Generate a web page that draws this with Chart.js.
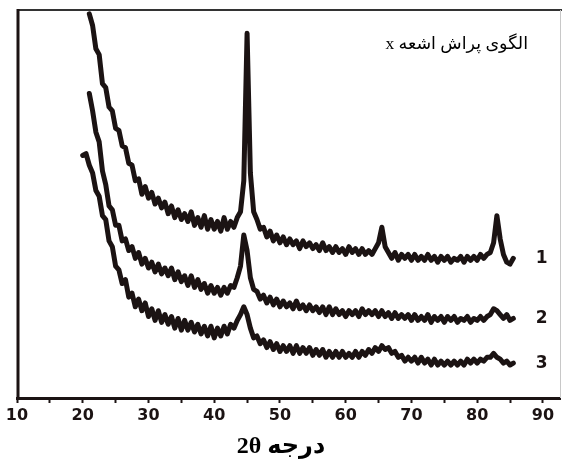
<!DOCTYPE html>
<html>
<head>
<meta charset="utf-8">
<script src="https://cdn.jsdelivr.net/npm/chart.js@4.4.0/dist/chart.umd.min.js"></script>
<style>
  html, body { margin: 0; padding: 0; background: #fff; }
  #wrap { width: 562px; height: 472px; }
</style>
</head>
<body>
<div id="wrap"><canvas id="xrd" width="562" height="472"></canvas></div>
<script>
// 2θ grid (degrees), 0.5° step
const TWO_THETA = [
    20.0, 20.5, 21.0, 21.5, 22.0, 22.5, 23.0, 23.5, 24.0, 24.5,
    25.0, 25.5, 26.0, 26.5, 27.0, 27.5, 28.0, 28.5, 29.0, 29.5,
    30.0, 30.5, 31.0, 31.5, 32.0, 32.5, 33.0, 33.5, 34.0, 34.5,
    35.0, 35.5, 36.0, 36.5, 37.0, 37.5, 38.0, 38.5, 39.0, 39.5,
    40.0, 40.5, 41.0, 41.5, 42.0, 42.5, 43.0, 43.5, 44.0, 44.5,
    45.0, 45.5, 46.0, 46.5, 47.0, 47.5, 48.0, 48.5, 49.0, 49.5,
    50.0, 50.5, 51.0, 51.5, 52.0, 52.5, 53.0, 53.5, 54.0, 54.5,
    55.0, 55.5, 56.0, 56.5, 57.0, 57.5, 58.0, 58.5, 59.0, 59.5,
    60.0, 60.5, 61.0, 61.5, 62.0, 62.5, 63.0, 63.5, 64.0, 64.5,
    65.0, 65.5, 66.0, 66.5, 67.0, 67.5, 68.0, 68.5, 69.0, 69.5,
    70.0, 70.5, 71.0, 71.5, 72.0, 72.5, 73.0, 73.5, 74.0, 74.5,
    75.0, 75.5, 76.0, 76.5, 77.0, 77.5, 78.0, 78.5, 79.0, 79.5,
    80.0, 80.5, 81.0, 81.5, 82.0, 82.5, 83.0, 83.5, 84.0, 84.5,
    85.0, 85.5,
];

// intensity, arbitrary units (0 = axis, 100 = top of frame)
const SAMPLE_1 = [
    null, null, 99, 96, 90, 88.5, 81, 80, 75, 74,
    69.5, 69, 65, 64.5, 60.5, 60, 56, 56.5, 52.5, 54.5,
    51.5, 53, 50, 51.5, 49, 50.5, 47.5, 49.5, 46.5, 48.5,
    46, 47.5, 45.5, 48, 44.5, 46.5, 44, 47, 43.5, 46,
    43.5, 45.5, 43, 46.5, 43.5, 45.5, 44, 46.5, 48, 56,
    94, 58, 48, 46, 43.5, 44, 41.5, 43, 40.5, 42,
    40, 41.5, 39.5, 41, 39.5, 40.5, 38.5, 40.5, 39, 40,
    38.5, 39.5, 38, 40, 38, 39, 37.5, 39, 37.5, 38.5,
    37, 39, 37.5, 38.5, 37, 38.5, 37, 38, 37, 38.5,
    40, 44, 39, 37.5, 36, 37.5, 35.5, 37, 36, 37,
    35.5, 37, 35.5, 36.5, 35.5, 37, 35.5, 36.5, 35, 36.5,
    35.5, 36.5, 35, 36, 35.5, 36.5, 35, 36.5, 35.5, 36.5,
    35.5, 37, 36, 37, 37.5, 40, 47, 41, 37, 35,
    34.5, 36,
];

const SAMPLE_2 = [
    null, null, 78.5, 74, 68.5, 66, 58.5, 55, 49.5, 48.5,
    44.5, 44.5, 40.5, 41, 38, 39, 36, 37.5, 34.5, 36,
    33.5, 35, 32.5, 34.5, 32, 33.5, 31.5, 33.5, 30.5, 32.5,
    30, 31.5, 29, 31.5, 28.5, 30.5, 28, 29.5, 27, 29,
    27, 28.5, 26.5, 28.5, 27, 29, 28.5, 31, 34, 42,
    38, 31, 28, 27.5, 25.5, 26.5, 24.5, 26, 24, 25.5,
    23.5, 25, 23.5, 24.5, 23, 25, 23, 24, 22.5, 24,
    22.5, 23.5, 22, 23.5, 21.5, 23.5, 21.5, 23, 21.5, 22.5,
    21, 22.5, 21.5, 22.5, 21, 23, 21.5, 22.5, 21.5, 22.5,
    21, 22.5, 21, 22, 20.5, 22, 20.5, 21.5, 20.5, 21.5,
    20, 21.5, 20, 21, 20, 21.5, 19.5, 21, 20, 21,
    19.5, 21, 20, 21, 19.5, 20.5, 20, 21, 19.5, 20.5,
    20, 21, 20, 21, 21.5, 23, 22.5, 21.5, 20.5, 21.5,
    20, 20.5,
];

const SAMPLE_3 = [
    62.5, 63, 60, 58, 53.5, 52, 47, 46, 40.5, 39,
    34, 33, 29.5, 30.5, 26, 27, 23.5, 25.5, 22.5, 24.5,
    21, 23, 20, 22.5, 19.5, 21.5, 19, 21, 18, 20.5,
    17.5, 20, 17.5, 19.5, 17, 19, 16.5, 18.5, 16, 18.5,
    15.5, 18, 16, 18.5, 16.5, 19, 18, 20, 21.5, 23.5,
    21.5, 18, 15.5, 16, 14, 15, 13, 14.5, 12.5, 14,
    12, 13.5, 12, 13.5, 11.5, 13.5, 11.5, 13, 11.5, 13,
    11, 12.5, 11, 12.5, 10.5, 12, 10.5, 12, 10.5, 12,
    10.5, 11.5, 10.5, 12, 10.5, 12, 11, 12.5, 11.5, 13,
    12, 13.5, 12.5, 13, 11.5, 12, 10.5, 11, 9.5, 10.5,
    9.5, 10.5, 9, 10.5, 9, 10, 8.5, 10, 8.5, 9.5,
    8.5, 9.5, 8.5, 9.5, 8.5, 9.5, 8.5, 10, 9, 10,
    9, 10, 9.5, 10.5, 10.5, 11.5, 10.5, 10, 9, 9.5,
    8.5, 9,
];

const SERIES = [SAMPLE_1, SAMPLE_2, SAMPLE_3];
const SERIES_NAMES = ["1", "2", "3"];
const X_TICKS = [10, 15, 20, 25, 30, 35, 40, 45, 50, 55, 60, 65, 70, 75, 80, 85, 90];
const X_LABEL_STEP = 10;
const NAME_AT = 89.8;          // 2θ where the sample numbers sit
const X_MIN = 10, X_MAX = 92.6;
const Y_MIN = 0, Y_MAX = 100;

const TITLE_TEXT = "الگوی پراش اشعه x";
const AXIS_TITLE = "درجه 2θ";

const INK = "#1b1313";

function toPoints(values) {
    return TWO_THETA.map((t, i) => ({ x: t, y: values[i] }));
}

const decor = {
    id: "decor",
    afterDatasetsDraw(chart) {
        const { ctx, chartArea: a, scales: { x, y } } = chart;
        ctx.save();

        // frame: thin top, faint right, heavy left
        ctx.strokeStyle = "#333";
        ctx.lineWidth = 2;
        ctx.beginPath();
        ctx.moveTo(a.left, a.top);
        ctx.lineTo(chart.width, a.top);
        ctx.stroke();

        ctx.strokeStyle = "#c8c8c8";
        ctx.lineWidth = 1;
        ctx.beginPath();
        ctx.moveTo(a.right + 0.5, a.top);
        ctx.lineTo(a.right + 0.5, a.bottom);
        ctx.stroke();

        ctx.strokeStyle = INK;
        ctx.lineWidth = 3;
        ctx.beginPath();
        ctx.moveTo(a.left + 1, a.top - 1);
        ctx.lineTo(a.left + 1, a.bottom + 1);
        ctx.stroke();

        // sample numbers at the end of each trace
        ctx.fillStyle = INK;
        ctx.font = "bold 17px 'DejaVu Sans'";
        ctx.textAlign = "center";
        ctx.textBaseline = "middle";
        SERIES.forEach((vals, i) => {
            const last = vals[vals.length - 1];
            ctx.fillText(SERIES_NAMES[i], x.getPixelForValue(NAME_AT), y.getPixelForValue(last));
        });

        // annotation, top right
        ctx.direction = "rtl";
        ctx.font = "17.5px 'Liberation Serif', 'DejaVu Sans'";
        ctx.textAlign = "right";
        ctx.fillStyle = "#000";
        ctx.fillText(TITLE_TEXT, 528, 44);

        // x axis title
        ctx.font = "bold 24px 'Liberation Serif', 'DejaVu Sans'";
        ctx.textAlign = "center";
        ctx.fillText(AXIS_TITLE, chart.width / 2, 447);

        ctx.restore();
    },
};

new Chart(document.getElementById("xrd"), {
    type: "line",
    data: {
        datasets: SERIES.map((vals, i) => ({
            label: SERIES_NAMES[i],
            data: toPoints(vals),
            borderColor: INK,
            borderWidth: 5,
            borderJoinStyle: "round",
            borderCapStyle: "round",
            pointRadius: 0,
            tension: 0,
            fill: false,
        })),
    },
    options: {
        responsive: false,
        animation: false,
        layout: { padding: { left: 17, top: 10, right: 2, bottom: 0 } },
        plugins: {
            legend: { display: false },
            tooltip: { enabled: false },
        },
        scales: {
            x: {
                type: "linear",
                min: X_MIN,
                max: X_MAX,
                afterBuildTicks: (scale) => {
                    scale.ticks = X_TICKS.map((v) => ({ value: v }));
                },
                afterFit: (scale) => { scale.height = 74; },
                ticks: {
                    autoSkip: false,
                    maxRotation: 0,
                    padding: 3,
                    color: INK,
                    font: { family: "'DejaVu Sans'", size: 16, weight: "bold" },
                    callback: (v) => (v % X_LABEL_STEP === 0 ? String(v) : ""),
                },
                grid: {
                    drawOnChartArea: false,
                    drawTicks: true,
                    tickLength: 5,
                    tickWidth: 2,
                    color: INK,
                },
                border: { display: true, width: 3, color: INK },
            },
            y: {
                display: false,
                min: Y_MIN,
                max: Y_MAX,
            },
        },
    },
    plugins: [decor],
});
</script>
</body>
</html>
